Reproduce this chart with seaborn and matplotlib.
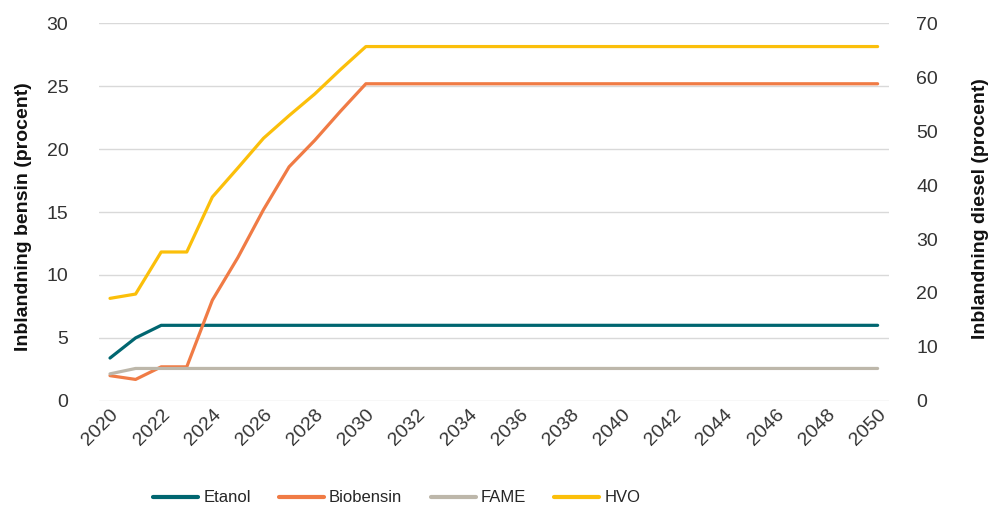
import matplotlib
matplotlib.use("Agg")
import matplotlib.pyplot as plt
import seaborn as sns
import pandas as pd

years = list(range(2020, 2051))
# bensin (left axis)
etanol = [3.4, 5.0, 6.0] + [6.0] * 28
biobensin = [2.0, 1.7, 2.7, 2.7, 8.0, 11.4, 15.2, 18.6, 20.7, 23.0] + [25.2] * 21
# diesel (right axis)
fame = [5.0, 6.0] + [6.0] * 29
hvo = [19.0, 19.8, 27.6, 27.6, 37.8, 43.2, 48.7, 52.9, 56.9, 61.4] + [65.7] * 21

colors = {"Etanol": "#006670", "Biobensin": "#f07b45", "FAME": "#bdb7aa", "HVO": "#fbbf0a"}

sns.set_style("white")
plt.rcParams['font.family'] = ['Liberation Sans', 'DejaVu Sans']

df_left = pd.DataFrame({"year": years * 2,
                        "val": etanol + biobensin,
                        "serie": ["Etanol"] * 31 + ["Biobensin"] * 31})
df_right = pd.DataFrame({"year": years * 2,
                         "val": fame + hvo,
                         "serie": ["FAME"] * 31 + ["HVO"] * 31})

fig = plt.figure(figsize=(9.92, 5.08), dpi=100)
ax = fig.add_axes([0.0998, 0.211, 0.796, 0.743])
ax2 = ax.twinx()

sns.lineplot(data=df_left, x="year", y="val", hue="serie", palette=colors, linewidth=2.3, ax=ax, legend=False)
sns.lineplot(data=df_right, x="year", y="val", hue="serie", palette=colors, linewidth=2.3, ax=ax2, legend=False)

ax.set_ylim(0, 30)
ax2.set_ylim(0, 70)
ax.set_yticks(range(0, 31, 5))
ax2.set_yticks(range(0, 71, 10))
ax.set_xlim(2019.57, 2050.43)
ax.set_xticks(range(2020, 2051, 2))
ax.set_xticklabels([str(y) for y in range(2020, 2051, 2)], rotation=45, ha="right", rotation_mode="anchor")

ax.grid(axis="y", color="#d9d9d9", linewidth=1)
ax.set_axisbelow(True)
for a in (ax, ax2):
    for s in a.spines.values():
        s.set_visible(False)
    a.tick_params(length=0, labelsize=14, colors="#333333")
ax.tick_params(axis="y", pad=22)
ax2.tick_params(axis="y", pad=20)
ax.tick_params(axis="x", pad=4)

ax.set_xlabel("")
ax.set_ylabel("Inblandning bensin (procent)", fontsize=14, fontweight="bold", color="#111111")
ax2.set_ylabel("Inblandning diesel (procent)", fontsize=14, fontweight="bold", color="#111111")
ax.yaxis.set_label_coords(-0.085, 0.489)
ax2.yaxis.set_label_coords(1.106, 0.509)

handles = [plt.Line2D([], [], color=colors[k], linewidth=3) for k in colors]
fig.legend(handles, list(colors.keys()), loc="center", bbox_to_anchor=(0.40, 0.02), ncol=4,
           frameon=False, fontsize=12, handlelength=2.7, columnspacing=1.7, handletextpad=0.3)

fig.savefig("out.png", dpi=100)
